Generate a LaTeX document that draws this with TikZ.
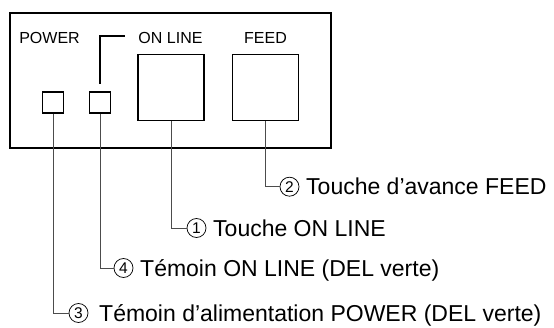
\documentclass[tikz,border=0pt]{standalone}
\usepackage{fontspec}
\setmainfont{Liberation Sans}

\tikzset{
	panelbox/.style	= {rectangle, draw, line width=1.3pt, inner sep=0pt},
	keybox/.style	= {rectangle, draw, line width=1.5pt, inner sep=0pt, minimum size=66pt},
	ledbox/.style	= {rectangle, draw, line width=1.5pt, inner sep=0pt, minimum size=21pt},
	toplabel/.style	= {inner sep=0pt, font=\fontsize{16}{19}\selectfont},
	numcircle/.style	= {circle, draw, line width=0.75pt, inner sep=0pt, minimum size=19pt, font=\fontsize{15.5}{15.5}\selectfont},
	callout/.style	= {anchor=west, inner sep=0pt, text height=16.5pt, text depth=0pt, font=\fontsize{23}{27}\selectfont},
	leader/.style	= {draw=black!70, line width=0.9pt}
}

\begin{document}
\begin{tikzpicture}[x=1pt, y=1pt]
\useasboundingbox (0, 0) rectangle (554, 327);

\path	(170.5, 246.5)	node(panel)			[panelbox, minimum width=321pt, minimum height=135pt]	{}
		(53, 224.5)		node(power_led)		[ledbox]		{}
		(100, 224.5)	node(online_led)	[ledbox]		{}
		(171, 239.5)	node(online_key)	[keybox]		{}
		(265.5, 239.5)	node(feed_key)		[keybox]		{}
		(49.5, 289.5)	node(power_text)	[toplabel]		{POWER}
		(170.5, 289.5)	node(online_text)	[toplabel]		{ON LINE}
		(265.5, 289.5)	node(feed_text)		[toplabel]		{FEED}
		(289.5, 140.3)	node(feed_num)		[numcircle]		{2}
		(196.5, 99)		node(online_num)	[numcircle]		{1}
		(123.5, 59)		node(led_num)		[numcircle]		{4}
		(78.5, 14)		node(power_num)		[numcircle]		{3}
		(306, 140.3)	node(feed_note)		[callout]		{Touche d’avance FEED}
		(213, 99)		node(online_note)	[callout]		{Touche ON LINE}
		(140, 59)		node(led_note)		[callout]		{Témoin ON LINE (DEL verte)}
		(99, 14)		node(power_note)	[callout]		{Témoin d’alimentation POWER (DEL verte)};

\coordinate (online_foot)	at (100, 243);
\coordinate (online_bend)	at (100, 291);
\coordinate (online_tip)	at (125, 291);

\draw[line width=1.3pt]	(online_foot)		--	(online_bend)	--	(online_tip);

\draw[leader]	(feed_key.south)	|-	(feed_num.west);
\draw[leader]	(online_key.south)	|-	(online_num.west);
\draw[leader]	(online_led.south)	|-	(led_num.west);
\draw[leader]	(power_led.south)	|-	(power_num.west);
\end{tikzpicture}
\end{document}
